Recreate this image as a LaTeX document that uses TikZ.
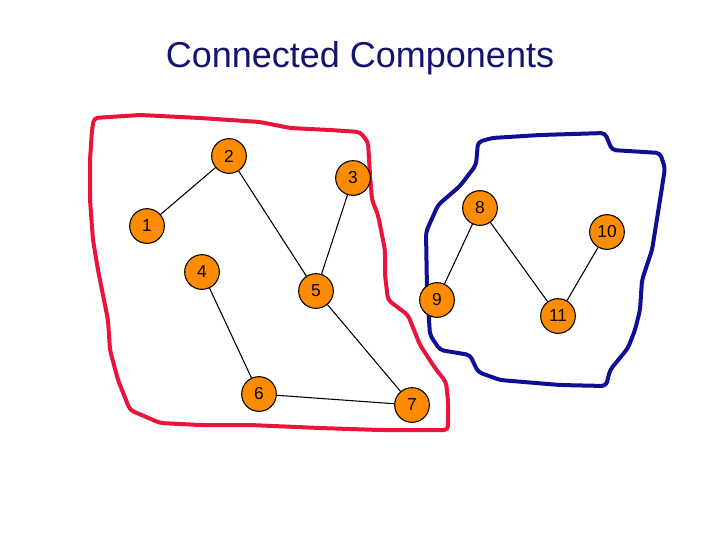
\documentclass[tikz,border=0pt]{standalone}
\usepackage{fontspec}
\setmainfont{Liberation Sans}
\begin{document}
\begin{tikzpicture}[x=0.75pt,y=-0.75pt,
  vtx/.style={circle,draw=black,line width=0.8pt,fill=orange!90!yellow,minimum size=26pt,inner sep=0pt,font=\fontsize{13}{13}\selectfont},
  edge/.style={draw=black,line width=0.8pt},
  redline/.style={draw={rgb,255:red,232;green,20;blue,60},line width=3pt,line join=round,rounded corners=3pt},
  blueline/.style={draw={rgb,255:red,15;green,15;blue,150},line width=3pt,line join=round,rounded corners=3pt}]
\useasboundingbox (0,0) rectangle (720,540);
\node[font=\fontsize{27}{27}\selectfont,text={rgb,255:red,20;green,20;blue,110}] (title) at (360,58) {Connected Components};
\draw[redline] (94,118) -- (140,115) -- (200,118) -- (260,122) -- (290,128) -- (330,130) -- (360,132) -- (368,142) -- (370,175) -- (372,200) -- (378,215) -- (385,250) -- (385,275) -- (388,300) -- (408,315) -- (420,345) -- (435,368) -- (446,382) -- (448,400) -- (448,430) -- (380,430) -- (320,428) -- (250,425) -- (200,425) -- (160,423) -- (130,410) -- (118,380) -- (110,350) -- (108,320) -- (103,295) -- (98,270) -- (93,240) -- (90,200) -- (90,160) -- (92,130) -- cycle;
\draw[blueline] (478,142) -- (492,138) -- (540,135) -- (605,133) -- (612,150) -- (660,153) -- (665,168) -- (660,200) -- (652,250) -- (642,280) -- (640,310) -- (635,330) -- (628,348) -- (610,370) -- (606,386) -- (560,385) -- (500,380) -- (478,372) -- (470,355) -- (440,350) -- (430,335) -- (427,290) -- (426,232) -- (438,205) -- (460,186) -- (476,165) -- cycle;
\node[vtx] (n2) at (229,156) {2};
\node[vtx] (n3) at (353,178) {3};
\node[vtx] (n8) at (480,208) {8};
\node[vtx] (n1) at (147,226) {1};
\node[vtx] (n10) at (607,232) {10};
\node[vtx] (n4) at (202,272) {4};
\node[vtx] (n5) at (316,291) {5};
\node[vtx] (n9) at (437,300) {9};
\node[vtx] (n11) at (558,316) {11};
\node[vtx] (n6) at (259,394) {6};
\node[vtx] (n7) at (412,405) {7};
\draw[edge] (n2) -- (n1);
\draw[edge] (n2) -- (n5);
\draw[edge] (n3) -- (n5);
\draw[edge] (n4) -- (n6);
\draw[edge] (n5) -- (n7);
\draw[edge] (n6) -- (n7);
\draw[edge] (n8) -- (n9);
\draw[edge] (n8) -- (n11);
\draw[edge] (n10) -- (n11);
\end{tikzpicture}
\end{document}
